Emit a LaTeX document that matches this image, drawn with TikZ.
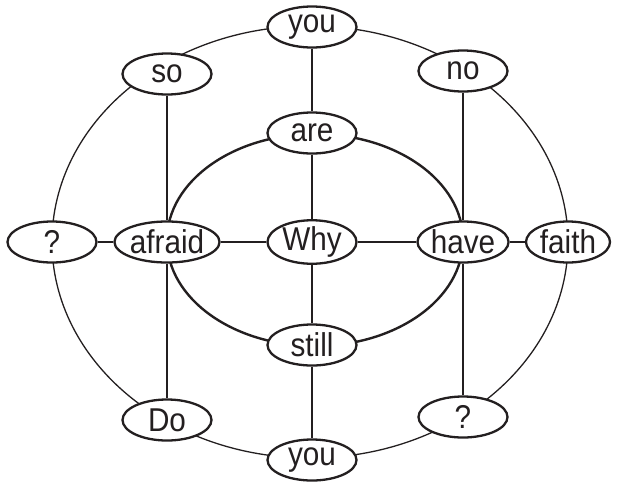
\documentclass[tikz,border=0pt]{standalone}
\usepackage{fontspec}
\setmainfont[FakeStretch=0.9]{Liberation Sans}
\usetikzlibrary{shapes.geometric}
\definecolor{ink}{HTML}{231F20}
\begin{document}
\begin{tikzpicture}[x=1pt,y=-1pt,
  word/.style={ellipse,draw=ink,line width=2.3pt,fill=white,minimum width=89pt,minimum height=41pt,inner sep=0pt,text=ink,font=\fontsize{33}{33}\selectfont},
  link/.style={draw=ink,line width=1.7pt},
  outerring/.style={draw=ink,line width=1.3pt},
  innerring/.style={draw=ink,line width=2.4pt}]
\useasboundingbox (0,0) rectangle (618,482);
% rings
\draw[outerring] (310,242) ellipse [x radius=258, y radius=216];
\draw[innerring] (315,240) ellipse [x radius=148, y radius=106];
% nodes
\node[word] (youT) at (312,27) {you};
\node[word] (so) at (167,74) {so};
\node[word] (no) at (463,71) {no};
\node[word] (are) at (312,133) {are};
\node[word] (qL) at (52,242) {?};
\node[word] (afraid) at (167,242) {afraid};
\node[word] (why) at (312,242) {Why};
\node[word] (have) at (463,242) {have};
\node[word,minimum width=84pt] (faith) at (568,242) {faith};
\node[word] (still) at (312,345) {still};
\node[word] (do) at (167,420) {Do};
\node[word] (qR) at (463,417) {?};
\node[word] (youB) at (312,460) {you};
% connectors
\draw[link] (youT) -- (are);
\draw[link] (are) -- (why);
\draw[link] (why) -- (still);
\draw[link] (still) -- (youB);
\draw[link] (so) -- (afraid);
\draw[link] (afraid) -- (do);
\draw[link] (no) -- (have);
\draw[link] (have) -- (qR);
\draw[link] (qL) -- (afraid);
\draw[link] (afraid) -- (why);
\draw[link] (why) -- (have);
\draw[link] (have) -- (faith);
\end{tikzpicture}
\end{document}
